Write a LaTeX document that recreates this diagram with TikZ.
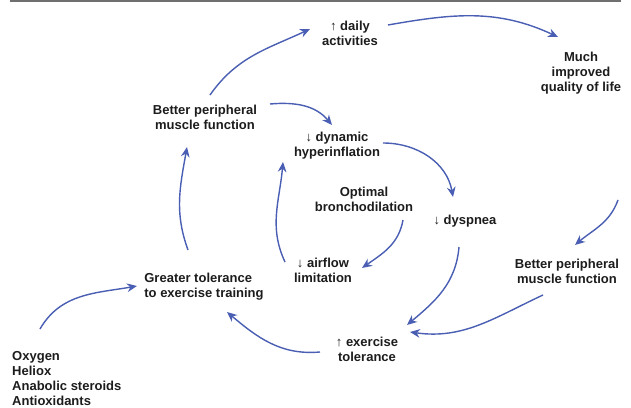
\documentclass[tikz,border=0pt]{standalone}
\usepackage{fontspec}
\setmainfont{Liberation Sans}
\usepackage{tikz}
\usetikzlibrary{arrows.meta}
\definecolor{Dark}{HTML}{1C1C1C}
\definecolor{Cobalt}{HTML}{4A5FB3}
\definecolor{Rule}{HTML}{6F6F6F}
\tikzset{
  effect/.style={
    align=center, inner sep=0pt, text=Dark,
    font=\fontsize{11.1}{12.8}\selectfont\bfseries
  },
  flow/.style={-{Stealth[length=3mm,width=2.6mm]}, line width=1.2pt, draw=Cobalt}
}

\begin{document}
\begin{tikzpicture}[x=0.03cm,y=0.03cm]
    \useasboundingbox (0,0) rectangle (631,407);
    \draw[Rule,line width=1.7pt] (10,406.3)--(621,406.3);
    % outcomes
    \node[effect] (daily) at (350,374) {↑ daily\\activities};
    \node[effect] (much) at (581,334) {Much\\improved\\quality of life};
    \node[effect] (bpl) at (205,290) {Better peripheral\\muscle function};
    \node[effect] (hyper) at (337,261) {↓ dynamic\\hyperinflation};
    \node[effect] (bron) at (364,208) {Optimal\\bronchodilation};
    \node[effect] (dysp) at (465,186) {↓ dyspnea};
    \node[effect] (airflow) at (323,137) {↓ airflow\\limitation};
    \node[effect] (bpr) at (567,136) {Better peripheral\\muscle function};
    \node[effect] (exer) at (367,58) {↑ exercise\\tolerance};
    \node[effect,align=left] (greater) at (204,120) {Greater tolerance\\to exercise training};
    \node[effect,align=left,anchor=north west] (meds) at (12,56) {Oxygen\\Heliox\\Anabolic steroids\\Antioxidants};
    \coordinate (loopin) at (618,207);
    % arrows
    \draw[flow] ([shift={(5,22)}]bpl.center) to[out=55,in=205] ([shift={(-40,4)}]daily.center);
    \draw[flow] ([shift={(38,8)}]daily.center) to[out=10,in=155] ([shift={(-23,36)}]much.center);
    \draw[flow] (loopin) to[out=250,in=40] ([shift={(8,26)}]bpr.center);
    \draw[flow] ([shift={(65,13)}]bpl.center) to[out=5,in=130] ([shift={(-5,21)}]hyper.center);
    \draw[flow] ([shift={(46,3)}]hyper.center) to[out=0,in=100] ([shift={(-12,24)}]dysp.center);
    \draw[flow] ([shift={(39,-21)}]bron.center) to[out=260,in=35] ([shift={(39,2)}]airflow.center);
    \draw[flow] ([shift={(-38,8)}]airflow.center) to[out=115,in=265] ([shift={(-54,-16)}]hyper.center);
    \draw[flow] ([shift={(-16,37)}]greater.center) to[out=110,in=260] ([shift={(-18,-30)}]bpl.center);
    \draw[flow] ([shift={(-6,-26)}]dysp.center) to[out=265,in=40] ([shift={(40,24)}]exer.center);
    \draw[flow] ([shift={(-24,-24)}]bpr.center) to[out=205,in=352] ([shift={(43,17)}]exer.center);
    \draw[flow] ([shift={(-47,-3)}]exer.center) to[out=185,in=320] ([shift={(23,-25)}]greater.center);
    \draw[flow] ([shift={(28,22)}]meds.north west) to[out=60,in=190] ([shift={(-67,1)}]greater.center);
\end{tikzpicture}
\end{document}
